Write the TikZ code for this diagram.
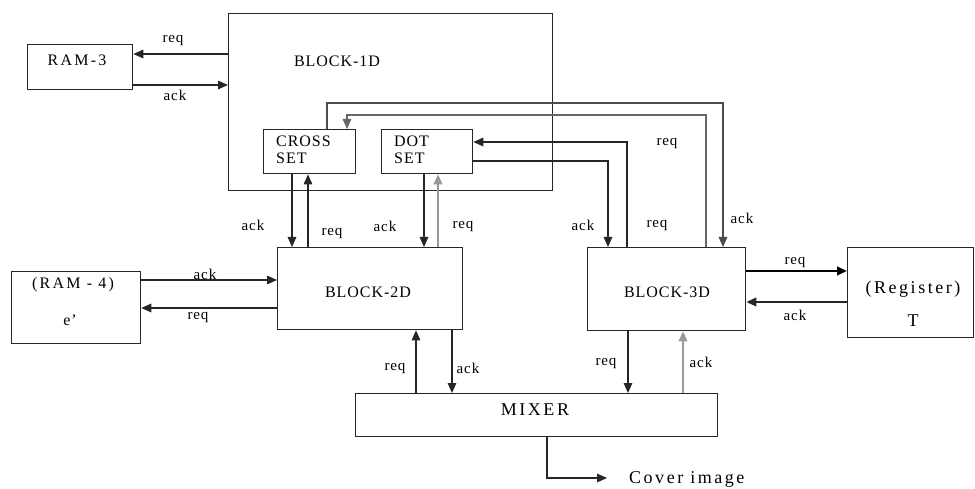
\documentclass[tikz,border=0pt]{standalone}
\usepackage{fontspec}
\setmainfont{Liberation Serif}
\newfontfamily\lsfont[LetterSpace=6]{Liberation Serif}
\newfontfamily\wfont[LetterSpace=14]{Liberation Serif}
\usetikzlibrary{arrows.meta,calc}
\begin{document}
\begin{tikzpicture}[x=1pt,y=-1pt,
  box/.style={draw=black!85, line width=1.3pt, anchor=north west, inner sep=0pt},
  txt/.style={font=\lsfont\fontsize{16}{17}\selectfont, inner sep=0pt},
  widetxt/.style={font=\wfont\fontsize{16}{18}\selectfont, inner sep=0pt},
  bigtxt/.style={font=\wfont\fontsize{18}{20}\selectfont, inner sep=0pt},
  lbl/.style={font=\lsfont\fontsize{15}{16}\selectfont, inner sep=0pt},
  wire/.style={draw=black!85, line width=1.4pt},
  gwire/.style={draw=black!40, line width=1.9pt},
  thick wire/.style={draw=black, line width=2.6pt},
  arr/.style={-{Triangle[length=10pt,width=8.5pt]}},
]
\fill[white] (0,0) rectangle (975,489);
\useasboundingbox (0,0) rectangle (975,489);

% boxes
\node[box, minimum width=105pt, minimum height=45pt] (ram3) at (27,44) {};
\node[box, minimum width=324pt, minimum height=177pt] (b1d) at (228,13) {};
\node[box, minimum width=92pt, minimum height=44pt] (cross) at (263,129) {};
\node[box, minimum width=91pt, minimum height=44pt] (dot) at (381,129) {};
\node[box, minimum width=185pt, minimum height=82pt] (b2d) at (277,247) {};
\node[box, minimum width=129pt, minimum height=72pt] (ram4) at (11,271) {};
\node[box, minimum width=158pt, minimum height=83pt] (b3d) at (587,247) {};
\node[box, minimum width=126pt, minimum height=90pt] (reg) at (847,247) {};
\node[box, minimum width=362pt, minimum height=43pt] (mixer) at (355,393) {};

% box texts
\node[widetxt] (t-ram3) at (77,60) {RAM-3};
\node[txt] (t-b1d) at (337,61) {BLOCK-1D};
\node[txt, align=left, anchor=west] (t-cross) at (276,150) {CROSS\\SET};
\node[txt, align=left, anchor=west] (t-dot) at (394,150) {DOT\\SET};
\node[txt] (t-b2d) at (368,292) {BLOCK-2D};
\node[widetxt] (t-ram4) at (73,285) {(RAM - 4)};
\node[txt] (t-e) at (70,320) {e’};
\node[txt] (t-b3d) at (667,292) {BLOCK-3D};
\node[bigtxt] (t-reg) at (913,289) {(Register)};
\node[bigtxt] (t-T) at (913,321) {T};
\node[bigtxt] (t-mix) at (535,410) {MIXER};
\node[bigtxt, anchor=west] (t-cov) at (629,479) {Cover image};
\coordinate (cov) at (607,478);

% RAM-3 <-> BLOCK-1D
\draw[wire,arr] (b1d.west |- 0,54) -- (ram3.east |- 0,54);
\draw[wire,arr] (ram3.east |- 0,85) -- (b1d.west |- 0,85);
\node[lbl] (l1) at (173,40) {req};
\node[lbl] (l2) at (175,95) {ack};

% CROSS SET <-> BLOCK-2D
\draw[wire,arr] (cross.south -| 292,0) -- (b2d.north -| 292,0);
\draw[wire,arr] (b2d.north -| 308,0) -- (cross.south -| 308,0);
\node[lbl] (l3) at (253,225) {ack};
\node[lbl] (l4) at (332,233) {req};

% DOT SET <-> BLOCK-2D
\draw[wire,arr] (dot.south -| 424,0) -- (b2d.north -| 424,0);
\draw[gwire,arr] (b2d.north -| 438,0) -- (dot.south -| 438,0);
\node[lbl] (l5) at (385,226) {ack};
\node[lbl] (l6) at (463,226) {req};

% RAM-4 <-> BLOCK-2D
\draw[wire,arr] (ram4.east |- 0,280) -- (b2d.west |- 0,280);
\draw[wire,arr] (b2d.west |- 0,308) -- (ram4.east |- 0,308);
\node[lbl] (l7) at (205,274) {ack};
\node[lbl] (l8) at (198,317) {req};

% BLOCK-2D <-> MIXER
\draw[wire,arr] (mixer.north -| 416,0) -- (b2d.south -| 416,0);
\draw[wire,arr] (b2d.south -| 452,0) -- (mixer.north -| 452,0);
\node[lbl] (l9) at (395,368) {req};
\node[lbl] (l10) at (468,368) {ack};

% BLOCK-3D <-> MIXER
\draw[wire,arr] (b3d.south -| 628,0) -- (mixer.north -| 628,0);
\draw[gwire,arr] (mixer.north -| 683,0) -- (b3d.south -| 683,0);
\node[lbl] (l11) at (606,363) {req};
\node[lbl] (l12) at (701,362) {ack};

% BLOCK-3D <-> Register
\draw[thick wire,arr] (b3d.east |- 0,271) -- (reg.west |- 0,271);
\draw[wire,line width=2.1pt,arr] (reg.west |- 0,302) -- (b3d.east |- 0,302);
\node[lbl] (l13) at (795,262) {req};
\node[lbl] (l14) at (795,315) {ack};

% long loops between CROSS/DOT SET and BLOCK-3D
\draw[wire,draw=black!70,arr] (cross.north -| 327,0) |- (723,103) -- (b3d.north -| 723,0);
\node[lbl] (l15) at (742,218) {ack};
\draw[wire,draw=black!60,arr] (b3d.north -| 706,0) |- (347,115) -- (cross.north -| 347,0);
\node[lbl] (l16) at (667,143) {req};
\draw[wire,arr] (b3d.north -| 627,0) |- (dot.east |- 0,142);
\node[lbl] (l17) at (657,225) {req};
\draw[wire,arr] (dot.east |- 0,161) -| (b3d.north -| 608,0);
\node[lbl] (l18) at (583,225) {ack};

% MIXER -> Cover image
\draw[wire,arr] (mixer.south -| 547,0) |- (cov);
\end{tikzpicture}
\end{document}
